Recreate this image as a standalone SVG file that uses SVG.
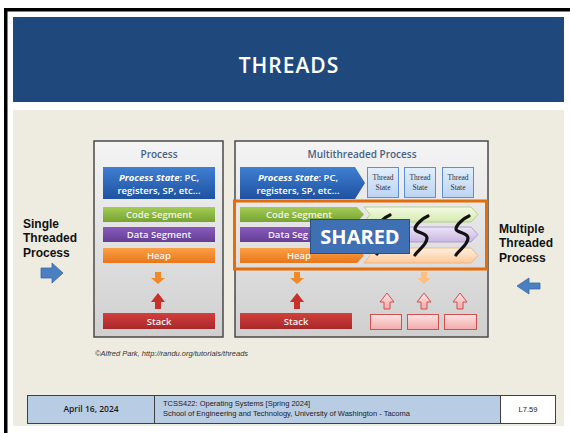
<svg xmlns="http://www.w3.org/2000/svg" width="570" height="433" viewBox="0 0 570 433">
  <defs>
    <linearGradient id="gPanel" x1="0" y1="0" x2="0" y2="1">
      <stop offset="0" stop-color="#f4f4f4"/>
      <stop offset="1" stop-color="#cfcfcf"/>
    </linearGradient>
    <linearGradient id="gBlue" x1="0" y1="0" x2="0" y2="1">
      <stop offset="0" stop-color="#3f7fd2"/>
      <stop offset="1" stop-color="#1f52a0"/>
    </linearGradient>
    <linearGradient id="gGreen" x1="0" y1="0" x2="0" y2="1">
      <stop offset="0" stop-color="#a4cc55"/>
      <stop offset="1" stop-color="#77a331"/>
    </linearGradient>
    <linearGradient id="gPurple" x1="0" y1="0" x2="0" y2="1">
      <stop offset="0" stop-color="#8a5bbd"/>
      <stop offset="1" stop-color="#633d92"/>
    </linearGradient>
    <linearGradient id="gOrange" x1="0" y1="0" x2="0" y2="1">
      <stop offset="0" stop-color="#fba048"/>
      <stop offset="1" stop-color="#e9761a"/>
    </linearGradient>
    <linearGradient id="gRed" x1="0" y1="0" x2="0" y2="1">
      <stop offset="0" stop-color="#d2403c"/>
      <stop offset="1" stop-color="#a9282a"/>
    </linearGradient>
    <linearGradient id="gPink" x1="0" y1="0" x2="0" y2="1">
      <stop offset="0" stop-color="#fde4e4"/>
      <stop offset="1" stop-color="#f2a9a9"/>
    </linearGradient>
    <linearGradient id="gThread" x1="0" y1="0" x2="0" y2="1">
      <stop offset="0" stop-color="#e2eefb"/>
      <stop offset="1" stop-color="#bcd4f2"/>
    </linearGradient>
    <linearGradient id="gLGreen" x1="0" y1="0" x2="0" y2="1">
      <stop offset="0" stop-color="#f3fbe4"/>
      <stop offset="1" stop-color="#d5eab0"/>
    </linearGradient>
    <linearGradient id="gLPurple" x1="0" y1="0" x2="0" y2="1">
      <stop offset="0" stop-color="#ece4f6"/>
      <stop offset="1" stop-color="#c9b7e0"/>
    </linearGradient>
    <linearGradient id="gLOrange" x1="0" y1="0" x2="0" y2="1">
      <stop offset="0" stop-color="#fff0e0"/>
      <stop offset="1" stop-color="#fcc99a"/>
    </linearGradient>
    <!-- block arrows, drawn around (0,0) -->
    <path id="arrowDown" d="M-3,-6 H3 V0 H7 L0,6 L-7,0 H-3 Z"/>
    <path id="arrowUp" d="M-3,8 H3 V1 H7 L0,-8 L-7,1 H-3 Z"/>
    <!-- one thread of execution, drawn around (0,0) -->
    <path id="squiggle" d="M7,-21 C2,-19 -6,-12 -6,-8 C-6,-4 6,-5 6,1 C6,8 -3,13 -6,18"/>
  </defs>
  <style>
    .panel { fill: url(#gPanel); stroke: #4a4a4a; stroke-width: 1.5; }
    .ptitle { font-family: "Open Sans", "Liberation Sans", sans-serif; font-weight: 600; font-size: 10px; fill: #4a5f85; text-anchor: middle; }
    .bartxt { font-family: "Open Sans", "Liberation Sans", sans-serif; font-weight: 600; font-size: 9.5px; fill: #f2f2f2; text-anchor: middle; }
    .pstxt { font-family: "Open Sans", "Liberation Sans", sans-serif; font-weight: 600; font-size: 9.5px; fill: #ffffff; text-anchor: middle; }
    .thtxt { font-family: "Liberation Serif", serif; font-size: 7.5px; fill: #2b3344; text-anchor: middle; }
    .side { font-family: "Liberation Sans", Arial, sans-serif; font-weight: bold; font-size: 12px; fill: #111111; }
    .foot { font-family: "Liberation Sans", sans-serif; font-size: 7.5px; fill: #222222; }
    .squig { fill: none; stroke: #111111; stroke-width: 3.2; stroke-linecap: round; stroke-linejoin: round; }
    .bluearrow { fill: #4a7fc1; stroke: #3a69a3; stroke-width: 0.8; }
  </style>

  <!-- slide frame -->
  <rect x="0" y="0" width="570" height="433" fill="#ffffff"/>
  <rect x="4" y="8" width="566" height="3.5" fill="#000000"/>
  <rect x="4" y="8" width="3.5" height="425" fill="#000000"/>
  <rect x="13" y="17" width="551" height="85" fill="#1f497d"/>
  <text x="289" y="73" font-family="Open Sans, Liberation Sans, sans-serif" font-weight="600" font-size="21" letter-spacing="1" fill="#ffffff" text-anchor="middle">THREADS</text>
  <rect x="13" y="110" width="551" height="316" fill="#eeece1"/>

  <!-- single threaded process -->
  <g id="process">
    <rect class="panel" x="94" y="141" width="129" height="196"/>
    <text class="ptitle" x="159" y="158">Process</text>
    <rect x="103" y="167" width="112" height="32" fill="url(#gBlue)"/>
    <text class="pstxt" x="159" y="181"><tspan font-style="italic" font-weight="700">Process State</tspan>: PC,</text>
    <text class="pstxt" x="159" y="194">registers, SP, etc...</text>
    <rect x="103" y="207" width="112" height="15" fill="url(#gGreen)"/>
    <text class="bartxt" x="159" y="218">Code Segment</text>
    <rect x="103" y="227" width="112" height="15" fill="url(#gPurple)"/>
    <text class="bartxt" x="159" y="238">Data Segment</text>
    <rect x="103" y="248" width="112" height="15" fill="url(#gOrange)"/>
    <text class="bartxt" x="159" y="259">Heap</text>
    <use href="#arrowDown" x="158" y="278" fill="#f08a28"/>
    <use href="#arrowUp" x="158" y="301" fill="#c8302c"/>
    <rect x="103" y="313" width="112" height="16" fill="url(#gRed)"/>
    <text class="bartxt" x="159" y="325">Stack</text>
  </g>

  <!-- multithreaded process -->
  <g id="multithreaded-process">
    <rect class="panel" x="235" y="141" width="253" height="196"/>
    <text class="ptitle" x="362" y="158">Multithreaded Process</text>
    <path d="M240,167 H355 L365,183 L355,199 H240 Z" fill="url(#gBlue)"/>
    <text class="pstxt" x="298" y="181"><tspan font-style="italic" font-weight="700">Process State</tspan>: PC,</text>
    <text class="pstxt" x="298" y="194">registers, SP, etc...</text>
    <g id="thread-states">
      <rect x="367.5" y="167.5" width="31" height="30" fill="url(#gThread)" stroke="#5b8fd0"/>
      <text class="thtxt" x="383" y="180">Thread</text>
      <text class="thtxt" x="383" y="190">State</text>
      <rect x="404.5" y="167.5" width="31" height="30" fill="url(#gThread)" stroke="#5b8fd0"/>
      <text class="thtxt" x="420" y="180">Thread</text>
      <text class="thtxt" x="420" y="190">State</text>
      <rect x="442.5" y="167.5" width="31" height="30" fill="url(#gThread)" stroke="#5b8fd0"/>
      <text class="thtxt" x="458" y="180">Thread</text>
      <text class="thtxt" x="458" y="190">State</text>
    </g>
    <!-- shared segments with per-thread extensions -->
    <path d="M364,207 H471 L478,214.5 L471,222 H364 L370,214.5 Z" fill="url(#gLGreen)" stroke="#a8c878" stroke-width="0.8"/>
    <path d="M240,207 H357 L364,214.5 L357,222 H240 Z" fill="url(#gGreen)"/>
    <text class="bartxt" x="299" y="218">Code Segment</text>
    <path d="M364,227 H471 L478,234.5 L471,242 H364 L370,234.5 Z" fill="url(#gLPurple)" stroke="#a58fc6" stroke-width="0.8"/>
    <path d="M240,227 H357 L364,234.5 L357,242 H240 Z" fill="url(#gPurple)"/>
    <!-- the rest of this label sits under the SHARED box -->
    <text class="bartxt" x="288" y="238">Data Seg</text>
    <path d="M364,248 H471 L478,255.5 L471,263 H364 L370,255.5 Z" fill="url(#gLOrange)" stroke="#f3ad70" stroke-width="0.8"/>
    <path d="M240,248 H357 L364,255.5 L357,263 H240 Z" fill="url(#gOrange)"/>
    <text class="bartxt" x="299" y="259">Heap</text>
    <use href="#arrowDown" x="297" y="278" fill="#f08a28"/>
    <use href="#arrowUp" x="297" y="301" fill="#c8302c"/>
    <rect x="240" y="313" width="112" height="16" fill="url(#gRed)"/>
    <text class="bartxt" x="296" y="325">Stack</text>
    <use href="#arrowDown" x="424" y="278" fill="#fbbf84"/>
    <g id="thread-stacks">
      <use href="#arrowUp" x="387" y="301" fill="url(#gPink)" stroke="#d0504c" stroke-width="1"/>
      <use href="#arrowUp" x="424" y="301" fill="url(#gPink)" stroke="#d0504c" stroke-width="1"/>
      <use href="#arrowUp" x="460" y="301" fill="url(#gPink)" stroke="#d0504c" stroke-width="1"/>
      <rect x="370.5" y="314.5" width="31" height="15" fill="url(#gPink)" stroke="#d0504c"/>
      <rect x="407.5" y="314.5" width="31" height="15" fill="url(#gPink)" stroke="#d0504c"/>
      <rect x="444.5" y="314.5" width="32" height="15" fill="url(#gPink)" stroke="#d0504c"/>
    </g>
  </g>

  <!-- thread squiggles -->
  <g id="threads">
    <use class="squig" href="#squiggle" x="383" y="236"/>
    <use class="squig" href="#squiggle" x="421" y="237"/>
    <use class="squig" href="#squiggle" x="462" y="237"/>
  </g>

  <!-- shared region outline and label -->
  <g id="shared">
    <rect x="234.5" y="201" width="252" height="68" fill="none" stroke="#e46c0a" stroke-width="3"/>
    <rect x="310.5" y="219.5" width="99" height="34" fill="#3f70b3" stroke="#2a4f80" stroke-width="1"/>
    <text x="360" y="244" font-family="Open Sans, Liberation Sans, sans-serif" font-weight="700" font-size="20" fill="#ffffff" text-anchor="middle">SHARED</text>
  </g>

  <!-- side labels -->
  <g id="single-label">
    <text class="side" x="23" y="228">Single</text>
    <text class="side" x="23" y="242">Threaded</text>
    <text class="side" x="23" y="257">Process</text>
    <path class="bluearrow" d="M41,268 H52 V263 L63,273 L52,283 V278 H41 Z"/>
  </g>
  <g id="multiple-label">
    <text class="side" x="499" y="233">Multiple</text>
    <text class="side" x="499" y="247">Threaded</text>
    <text class="side" x="499" y="262">Process</text>
    <path class="bluearrow" d="M540,283 H529 V278 L517,286 L529,294 V289 H540 Z"/>
  </g>

  <text x="95" y="356" font-family="Liberation Sans, sans-serif" font-style="italic" font-size="7.5" fill="#333333">©Alfred Park, http://randu.org/tutorials/threads</text>

  <!-- footer -->
  <g id="footer">
    <rect x="27.5" y="395.5" width="127" height="28" fill="#b8cce4" stroke="#404040"/>
    <rect x="154.5" y="395.5" width="346" height="28" fill="#b8cce4" stroke="#404040"/>
    <rect x="500.5" y="395.5" width="55" height="28" fill="#ffffff" stroke="#404040"/>
    <text x="91" y="412" font-family="Open Sans, Liberation Sans, sans-serif" font-weight="600" font-size="8.5" fill="#1a1a1a" text-anchor="middle">April 16, 2024</text>
    <text class="foot" x="163" y="406">TCSS422: Operating Systems [Spring 2024]</text>
    <text class="foot" x="163" y="416">School of Engineering and Technology, University of Washington - Tacoma</text>
    <text class="foot" x="528" y="412" text-anchor="middle">L7.59</text>
  </g>
</svg>
